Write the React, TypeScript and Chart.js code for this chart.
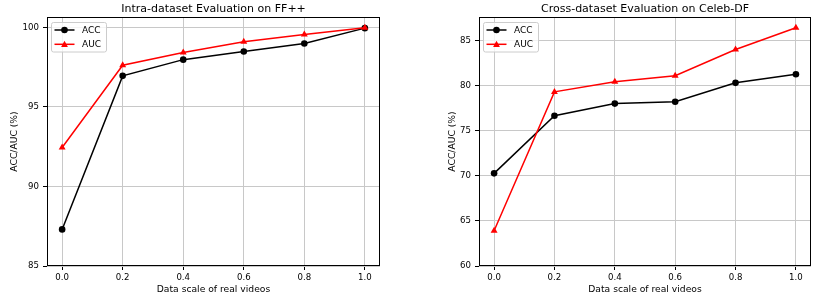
import React, { useEffect, useRef } from "react";
import { Chart, registerables } from "chart.js";

Chart.register(...registerables);

const xValues = [0, 0.2, 0.4, 0.6, 0.8, 1.0];
const xTickLabels = ["0.0", "0.2", "0.4", "0.6", "0.8", "1.0"];

const ffAcc = [87.3, 96.95, 97.97, 98.48, 98.98, 99.95];
const ffAuc = [92.45, 97.62, 98.42, 99.1, 99.55, 99.97];
const ffYTicks = [85, 90, 95, 100];

const celebAcc = [70.27, 76.65, 78.0, 78.2, 80.3, 81.25];
const celebAuc = [63.9, 79.3, 80.43, 81.1, 84.0, 86.4];
const celebYTicks = [60, 65, 70, 75, 80, 85];

const seriesNames = ["ACC", "AUC"];
const titles = ["Intra-dataset Evaluation on FF++", "Cross-dataset Evaluation on Celeb-DF"];
const xAxisLabel = "Data scale of real videos";
const yAxisLabel = "ACC/AUC (%)";

const FONT = "'DejaVu Sans', sans-serif";

type PanelProps = {
  title: string;
  acc: number[];
  auc: number[];
  yTicks: number[];
  yMin: number;
  yMax: number;
  yAxisWidth: number;
  rightPad: number;
  yLabelOffset: number;
  left: number;
};

function drawMarker(ctx: CanvasRenderingContext2D, kind: string, x: number, y: number, color: string) {
  ctx.fillStyle = color;
  ctx.beginPath();
  if (kind === "circle") {
    ctx.arc(x, y, 3.3, 0, Math.PI * 2);
  } else {
    ctx.moveTo(x, y - 3.5);
    ctx.lineTo(x - 3.4, y + 2.6);
    ctx.lineTo(x + 3.4, y + 2.6);
    ctx.closePath();
  }
  ctx.fill();
}

function Panel(p: PanelProps) {
  const ref = useRef<HTMLCanvasElement | null>(null);
  useEffect(() => {
    if (!ref.current) return;
    const decor = {
      id: "decor",
      afterDraw(chart: any) {
        const ctx = chart.ctx as CanvasRenderingContext2D;
        const a = chart.chartArea;
        ctx.save();
        // frame
        ctx.strokeStyle = "#000";
        ctx.lineWidth = 1;
        ctx.strokeRect(Math.round(a.left) + 0.5, Math.round(a.top) + 0.5, Math.round(a.right - a.left) - 1, Math.round(a.bottom - a.top) - 1);
        // title
        ctx.fillStyle = "#000";
        ctx.font = `11px ${FONT}`;
        ctx.textAlign = "center";
        ctx.textBaseline = "middle";
        ctx.fillText(p.title, (a.left + a.right) / 2, 9);
        // x label
        ctx.font = `9.2px ${FONT}`;
        ctx.fillText(xAxisLabel, (a.left + a.right) / 2, 289.5);
        // y label
        ctx.save();
        ctx.translate(a.left - p.yLabelOffset, (a.top + a.bottom) / 2);
        ctx.rotate(-Math.PI / 2);
        ctx.fillText(yAxisLabel, 0, 0);
        ctx.restore();
        // legend
        const lx = a.left + 4;
        const ly = a.top + 5;
        const lw = 55;
        const lh = 29.5;
        ctx.beginPath();
        (ctx as any).roundRect(lx + 0.5, ly + 0.5, lw, lh, 2);
        ctx.fillStyle = "rgba(255,255,255,0.8)";
        ctx.fill();
        ctx.strokeStyle = "#cccccc";
        ctx.stroke();
        const rows = [
          { name: seriesNames[0], color: "#000000", kind: "circle", y: ly + 8 },
          { name: seriesNames[1], color: "#ff0000", kind: "triangle", y: ly + 22.3 },
        ];
        rows.forEach((r) => {
          ctx.strokeStyle = r.color;
          ctx.lineWidth = 1.5;
          ctx.beginPath();
          ctx.moveTo(lx + 3.5, r.y);
          ctx.lineTo(lx + 23.5, r.y);
          ctx.stroke();
          drawMarker(ctx, r.kind, lx + 13.5, r.y, r.color);
          ctx.fillStyle = "#000";
          ctx.font = `9px ${FONT}`;
          ctx.textAlign = "left";
          ctx.textBaseline = "middle";
          ctx.fillText(r.name, lx + 31, r.y + 0.5);
        });
        ctx.restore();
      },
    };
    const chart = new Chart(ref.current, {
      type: "line",
      data: {
        datasets: [
          {
            label: seriesNames[0],
            data: xValues.map((x, i) => ({ x, y: p.acc[i] })),
            borderColor: "#000000",
            backgroundColor: "#000000",
            pointBackgroundColor: "#000000",
            pointBorderColor: "#000000",
            pointStyle: "circle",
            pointRadius: 3.3,
            pointBorderWidth: 0,
            borderWidth: 1.5,
            tension: 0,
            order: 1,
          },
          {
            label: seriesNames[1],
            data: xValues.map((x, i) => ({ x, y: p.auc[i] })),
            borderColor: "#ff0000",
            backgroundColor: "#ff0000",
            pointBackgroundColor: "#ff0000",
            pointBorderColor: "#ff0000",
            pointStyle: "triangle",
            pointRadius: 4,
            pointBorderWidth: 0,
            borderWidth: 1.5,
            tension: 0,
            order: 0,
          },
        ],
      },
      options: {
        animation: false,
        responsive: false,
        devicePixelRatio: 1,
        layout: { padding: { left: 0, top: 17, right: p.rightPad, bottom: 0 } },
        plugins: { legend: { display: false }, tooltip: { enabled: false }, title: { display: false } },
        scales: {
          x: {
            type: "linear",
            min: -0.05,
            max: 1.05,
            afterBuildTicks: (s: any) => {
              s.ticks = xValues.map((v) => ({ value: v }));
            },
            afterFit: (s: any) => {
              s.height = 34;
            },
            ticks: {
              callback: (_v: any, i: number) => xTickLabels[i],
              color: "#000",
              font: { family: FONT, size: 8.6 },
              padding: 3,
              maxRotation: 0,
              autoSkip: false,
            },
            grid: { color: "#c8c8c8", lineWidth: 1, tickLength: 4, tickColor: "#000", drawTicks: true },
            border: { display: false },
          },
          y: {
            type: "linear",
            min: p.yMin,
            max: p.yMax,
            afterBuildTicks: (s: any) => {
              s.ticks = p.yTicks.map((v) => ({ value: v }));
            },
            afterFit: (s: any) => {
              s.width = p.yAxisWidth;
            },
            ticks: {
              callback: (v: any) => String(v),
              color: "#000",
              font: { family: FONT, size: 8.6 },
              padding: 4,
              autoSkip: false,
            },
            grid: { color: "#c8c8c8", lineWidth: 1, tickLength: 4, tickColor: "#000", drawTicks: true },
            border: { display: false },
          },
        },
      },
      plugins: [decor],
    } as any);
    return () => chart.destroy();
  }, []);
  return (
    <canvas
      ref={ref}
      width={415}
      height={300}
      style={{ position: "absolute", left: p.left, top: 0, width: 415, height: 300 }}
    />
  );
}

export default function App() {
  return (
    <div style={{ position: "fixed", left: 0, top: 0, width: 830, height: 300, background: "#fff" }}>
      <Panel
        title={titles[0]}
        acc={ffAcc}
        auc={ffAuc}
        yTicks={ffYTicks}
        yMin={85}
        yMax={100.65}
        yAxisWidth={47}
        rightPad={35}
        yLabelOffset={32.5}
        left={0}
      />
      <Panel
        title={titles[1]}
        acc={celebAcc}
        auc={celebAuc}
        yTicks={celebYTicks}
        yMin={60}
        yMax={87.6}
        yAxisWidth={64}
        rightPad={19}
        yLabelOffset={26.5}
        left={415}
      />
    </div>
  );
}
